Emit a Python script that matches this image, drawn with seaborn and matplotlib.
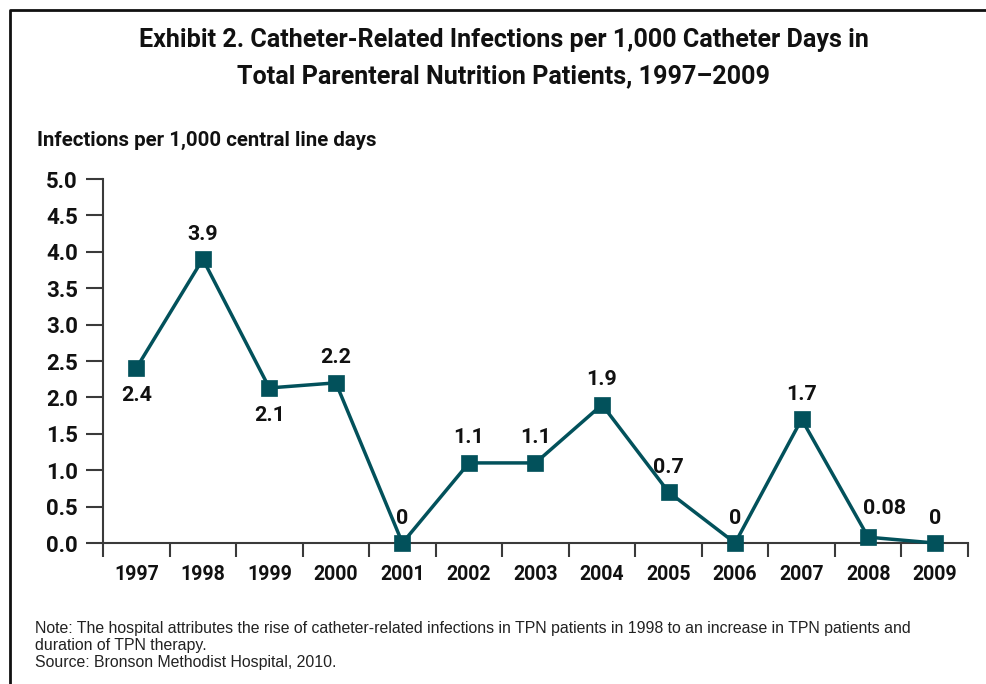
import matplotlib
matplotlib.use("Agg")
import matplotlib.pyplot as plt
import seaborn as sns
import numpy as np
import pandas as pd

years = ["1997", "1998", "1999", "2000", "2001", "2002", "2003",
         "2004", "2005", "2006", "2007", "2008", "2009"]
rates = [2.4, 3.9, 2.13, 2.2, 0.0, 1.1, 1.1, 1.9, 0.7, 0.0, 1.7, 0.08, 0.0]
labels = ["2.4", "3.9", "2.1", "2.2", "0", "1.1", "1.1", "1.9", "0.7", "0", "1.7", "0.08", "0"]
label_below = [True, False, True, False, False, False, False, False, False, False, False, False, False]
yticks = [0.0, 0.5, 1.0, 1.5, 2.0, 2.5, 3.0, 3.5, 4.0, 4.5, 5.0]
title_lines = ["Exhibit 2. Catheter-Related Infections per 1,000 Catheter Days in",
               "Total Parenteral Nutrition Patients, 1997\u20132009"]
ylabel_text = "Infections per 1,000 central line days"
note_lines = ["Note: The hospital attributes the rise of catheter-related infections in TPN patients in 1998 to an increase in TPN patients and",
              "duration of TPN therapy.",
              "Source: Bronson Methodist Hospital, 2010."]

sns.set_theme(style="white")
plt.rcParams["font.family"] = ["Roboto", "DejaVu Sans"]

color = "#02515B"
axis_color = "#3a3a3a"
text_color = "#111111"

W, H = 987, 684
fig = plt.figure(figsize=(W / 100, H / 100), dpi=100)
ax = fig.add_axes([103 / W, 1 - 543 / H, (968 - 103) / W, (543 - 179) / H])

df = pd.DataFrame({"pos": np.arange(len(years)), "rate": rates})
sns.lineplot(data=df, x="pos", y="rate", ax=ax, color=color, linewidth=2.5,
             marker="s", markersize=11.5, markeredgewidth=0.5,
             markeredgecolor=color, markerfacecolor=color,
             clip_on=False, zorder=5)

ax.set_xlim(-0.5, len(years) - 0.5)
ax.set_ylim(0, 5)
ax.set_xlabel("")
ax.set_ylabel("")

for side in ["top", "right"]:
    ax.spines[side].set_visible(False)
for side in ["left", "bottom"]:
    ax.spines[side].set_color(axis_color)
    ax.spines[side].set_linewidth(1.5)
ax.grid(False)

fig.canvas.draw()
renderer = fig.canvas.get_renderer()


def fitted_size(s, target_px, base=14, **kw):
    t = fig.text(0, 0, s, fontsize=base, **kw)
    w = t.get_window_extent(renderer).width
    t.remove()
    return base * target_px / w


bold = dict(fontweight="bold")
xt_size = fitted_size("1997", 45, **bold)
yt_size = fitted_size("5.0", 32, **bold)
lab_size = fitted_size("3.9", 31, **bold)
title_size = fitted_size(title_lines[0], 730, **bold)
ylab_size = fitted_size(ylabel_text, 340, **bold)
note_size = fitted_size(note_lines[0], 881, family=["Liberation Sans", "DejaVu Sans"])

ax.set_xticks(np.arange(len(years)))
ax.set_xticklabels(years)
ax.set_xticks(np.arange(len(years) + 1) - 0.5, minor=True)
ax.tick_params(axis="x", which="major", length=0, pad=16, labelsize=xt_size,
               labelcolor=text_color)
ax.tick_params(axis="x", which="minor", length=10, width=1.5, color=axis_color,
               direction="out", bottom=True)
ax.set_yticks(yticks)
ax.set_yticklabels([f"{v:.1f}" for v in yticks])
ax.tick_params(axis="y", which="major", length=12, width=1.5, color=axis_color,
               direction="out", pad=6, labelsize=yt_size, left=True, labelcolor=text_color)
for t in ax.get_xticklabels() + ax.get_yticklabels():
    t.set_fontweight("bold")

# label placement (offsets in points); the 2008 label sits up and to the right
special_offsets = {11: (12, 17)}
for i, (v, lab, below) in enumerate(zip(rates, labels, label_below)):
    if below:
        ax.annotate(lab, (i, v), xytext=(0, -13), textcoords="offset points",
                    ha="center", va="top", fontsize=lab_size, fontweight="bold",
                    color=text_color)
    else:
        dx, dy = special_offsets.get(i, (0, 14))
        ax.annotate(lab, (i, v), xytext=(dx, dy), textcoords="offset points",
                    ha="center", va="baseline", fontsize=lab_size, fontweight="bold",
                    color=text_color)

for line, base_y in zip(title_lines, [47, 83]):
    fig.text(504 / W, 1 - base_y / H, line, ha="center", va="baseline",
             fontsize=title_size, fontweight="bold", color=text_color)

fig.text(37 / W, 1 - 146 / H, ylabel_text, ha="left", va="baseline",
         fontsize=ylab_size, fontweight="bold", color=text_color)

for line, base_y in zip(note_lines, [633, 650, 667]):
    fig.text(35 / W, 1 - base_y / H, line, ha="left", va="baseline",
             fontsize=note_size, color="#222222",
             family=["Liberation Sans", "DejaVu Sans"])

# outer frame (top and left edges)
frame = matplotlib.lines.Line2D([10 / W, 10 / W, 1.0], [0.0, 1 - 9.5 / H, 1 - 9.5 / H],
                                transform=fig.transFigure, color="#111111", linewidth=2)
fig.add_artist(frame)

fig.savefig("out.png", dpi=100)
